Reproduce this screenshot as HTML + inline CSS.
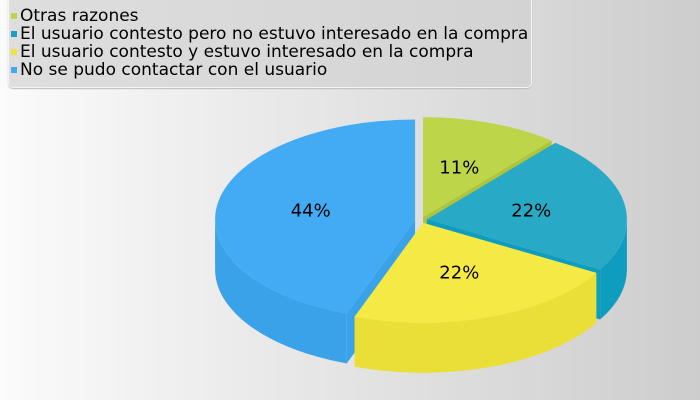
<!DOCTYPE html>
<html><head><meta charset="utf-8"><style>
body{margin:0;width:700px;height:400px;overflow:hidden;font-family:"DejaVu Sans","Liberation Sans",sans-serif;}
#bg{position:absolute;left:0;top:0;width:700px;height:400px;background:linear-gradient(90deg,#fbfbfb 0%,#e6e6e6 45%,#cdcdcd 100%);}
#legend{position:absolute;left:8px;top:-4px;width:522px;height:90px;border:1px solid #f4f4f4;border-radius:5px;background:linear-gradient(90deg,#dedede,#d3d3d3);box-shadow:0 1px 1px #bbb;}
.li{position:absolute;left:2px;font-size:17px;color:#000;line-height:18px;white-space:nowrap;}
.sw{display:inline-block;width:6px;height:6px;margin-right:3px;vertical-align:2px;}
svg{position:absolute;left:0;top:0;}
</style></head><body>
<div id="bg"></div>
<div id="legend">
 <div class="li" style="top:10px"><span class="sw" style="background:#bdd548"></span>Otras razones</div>
 <div class="li" style="top:28px"><span class="sw" style="background:#1aa0c0"></span>El usuario contesto pero no estuvo interesado en la compra</div>
 <div class="li" style="top:46px"><span class="sw" style="background:#f0e43c"></span>El usuario contesto y estuvo interesado en la compra</div>
 <div class="li" style="top:64px"><span class="sw" style="background:#42aaf2"></span>No se pudo contactar con el usuario</div>
</div>
<svg id="pie" width="700" height="400"></svg>
<script>
const categories=["Otras razones","El usuario contesto pero no estuvo interesado en la compra","El usuario contesto y estuvo interesado en la compra","No se pudo contactar con el usuario"];
const values=[1,2,2,4];
const labels=["11%","22%","22%","44%"];
const topColors=["#bdd548","#28a9c6","#f5ea45","#43abf3"];
const sideColors=["#aec43c","#0f9dbf","#e9df36","#3aa2e8"];
const svg=document.getElementById('pie');
const NS="http://www.w3.org/2000/svg";
const cx=421,cy=220,rx=200,ry=100,depth=50,ex=6;
const total=values.reduce((a,b)=>a+b,0);
function pt(ox,oy,a,dy){const r=a*Math.PI/180;return [ox+rx*Math.sin(r),oy-ry*Math.cos(r)+(dy||0)];}
const slices=[];let acc=0;
values.forEach((v,i)=>{const a0=acc/total*360;acc+=v;const a1=acc/total*360;const m=(a0+a1)/2*Math.PI/180;
 slices.push({i,a0,a1,ox:cx+ex*Math.sin(m),oy:cy-ex*0.5*Math.cos(m),cm:Math.cos(m)});});
const order=slices.slice().sort((a,b)=>b.cm-a.cm);
function add(d,fill,name){const p=document.createElementNS(NS,'path');p.setAttribute('d',d);p.setAttribute('fill',fill);
 
 
 svg.appendChild(p);}
order.forEach(s=>{
 const {ox,oy,a0,a1,i}=s;
 [a0,a1].forEach(a=>{const p=pt(ox,oy,a);
  add(`M${ox},${oy}L${p[0]},${p[1]}L${p[0]},${p[1]+depth}L${ox},${oy+depth}Z`,sideColors[i],'slice-wall');});
 const b0=Math.max(a0,90),b1=Math.min(a1,270);
 if(b1>b0){const p0=pt(ox,oy,b0),p1=pt(ox,oy,b1),q1=pt(ox,oy,b1,depth),q0=pt(ox,oy,b0,depth);
  add(`M${p0[0]},${p0[1]}A${rx},${ry} 0 0 1 ${p1[0]},${p1[1]}L${q1[0]},${q1[1]}A${rx},${ry} 0 0 0 ${q0[0]},${q0[1]}Z`,sideColors[i],'slice-side');}
 const p0=pt(ox,oy,a0),p1=pt(ox,oy,a1);const lg=(a1-a0)>180?1:0;
 const p=document.createElementNS(NS,'path');
 p.setAttribute('d',`M${ox},${oy}L${p0[0]},${p0[1]}A${rx},${ry} 0 ${lg} 1 ${p1[0]},${p1[1]}Z`);
 p.setAttribute('fill',topColors[i]);
 
 
 svg.appendChild(p);
});
slices.forEach(s=>{const m=(s.a0+s.a1)/2;const p=pt(s.ox,s.oy,m);
 const lx=s.ox+(p[0]-s.ox)*0.53, ly=s.oy+(p[1]-s.oy)*0.53;
 const t=document.createElementNS(NS,'text');t.setAttribute('x',lx);t.setAttribute('y',ly+6);
 t.setAttribute('text-anchor','middle');t.setAttribute('font-size','18');t.setAttribute('font-family','DejaVu Sans, Liberation Sans, sans-serif');
 t.textContent=labels[s.i];
 
 
 svg.appendChild(t);});
</script>
</body></html>
